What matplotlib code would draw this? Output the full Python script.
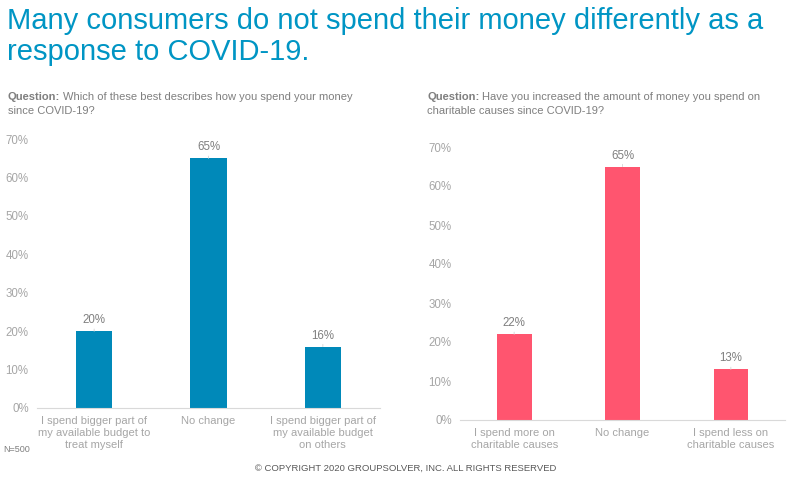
import matplotlib
matplotlib.use("Agg")
import matplotlib.pyplot as plt

plt.rcParams['font.family'] = ['Liberation Sans', 'DejaVu Sans']

title_lines = ["Many consumers do not spend their money differently as a",
               "response to COVID-19."]
q1 = "Which of these best describes how you spend your money\nsince COVID-19?"
q2 = "Have you increased the amount of money you spend on\ncharitable causes since COVID-19?"

cats1 = ["I spend bigger part of\nmy available budget to\ntreat myself", "No change",
         "I spend bigger part of\nmy available budget\non others"]
vals1 = [20, 65, 16]
cats2 = ["I spend more on\ncharitable causes", "No change", "I spend less on\ncharitable causes"]
vals2 = [22, 65, 13]
yticks = [0, 10, 20, 30, 40, 50, 60, 70]

BLUE = "#0089B9"
PINK = "#FF556F"
TITLE_C = "#0095C4"
TXT = "#7F7F7F"
TICK = "#A6A6A6"
LINE = "#D9D9D9"

W, H = 795, 479
fig = plt.figure(figsize=(W/100, H/100), dpi=100)

fig.text(7/W, 1-21/H, title_lines[0], color=TITLE_C, fontsize=21, va='center', ha='left')
fig.text(7/W, 1-52/H, title_lines[1], color=TITLE_C, fontsize=21, va='center', ha='left')

def qtext(x, y, s):
    t = fig.text(x, y, "Question:", fontsize=8, color=TXT, fontweight='bold', ha='left', va='top')
    fig.canvas.draw()
    bb = t.get_window_extent()
    lines = s.split("\n")
    fig.text(bb.x1/W + 3/W, y, lines[0], fontsize=8, color=TXT, ha='left', va='top')
    fig.text(x, y - 14/H, lines[1], fontsize=8, color=TXT, ha='left', va='top')

qtext(8/W, 1-92/H, q1)
qtext(427/W, 1-92/H, q2)

def panel(rect, cats, vals, color):
    ax = fig.add_axes(rect)
    x = list(range(len(cats)))
    ax.bar(x, vals, width=0.32, color=color)
    ax.set_xlim(-0.5, len(cats)-0.5)
    ax.set_ylim(0, 70)
    ax.set_yticks(yticks)
    ax.set_yticklabels([f"{v}%" for v in yticks])
    ax.set_xticks(x)
    ax.set_xticklabels(cats, linespacing=1.25)
    for s in ['top', 'right', 'left']:
        ax.spines[s].set_visible(False)
    ax.spines['bottom'].set_color(LINE)
    ax.spines['bottom'].set_linewidth(0.8)
    ax.tick_params(axis='y', length=0, labelsize=8.3, colors=TICK, pad=6)
    ax.tick_params(axis='x', length=0, labelsize=8, colors=TICK, pad=6)
    for xi, v in zip(x, vals):
        ax.annotate(f"{v}%", xy=(xi, v), xytext=(0, 3.5), textcoords='offset points',
                    ha='center', va='bottom', fontsize=8.3, color=TXT,
                    arrowprops=dict(arrowstyle='-', color=LINE, lw=0.7, shrinkA=0, shrinkB=0))
    return ax

panel([37/W, 1-408/H, 343/W, 269/H], cats1, vals1, BLUE)
panel([460/W, 1-420/H, 325/W, 273/H], cats2, vals2, PINK)

fig.text(3/W, 1-449/H, "N=500", fontsize=6.5, color=TXT, ha='left', va='center')
fig.text(406/W, 1-468/H, "© COPYRIGHT 2020 GROUPSOLVER, INC. ALL RIGHTS RESERVED",
         fontsize=6.8, color="#595959", ha='center', va='center')

fig.savefig("out.png", dpi=100)
